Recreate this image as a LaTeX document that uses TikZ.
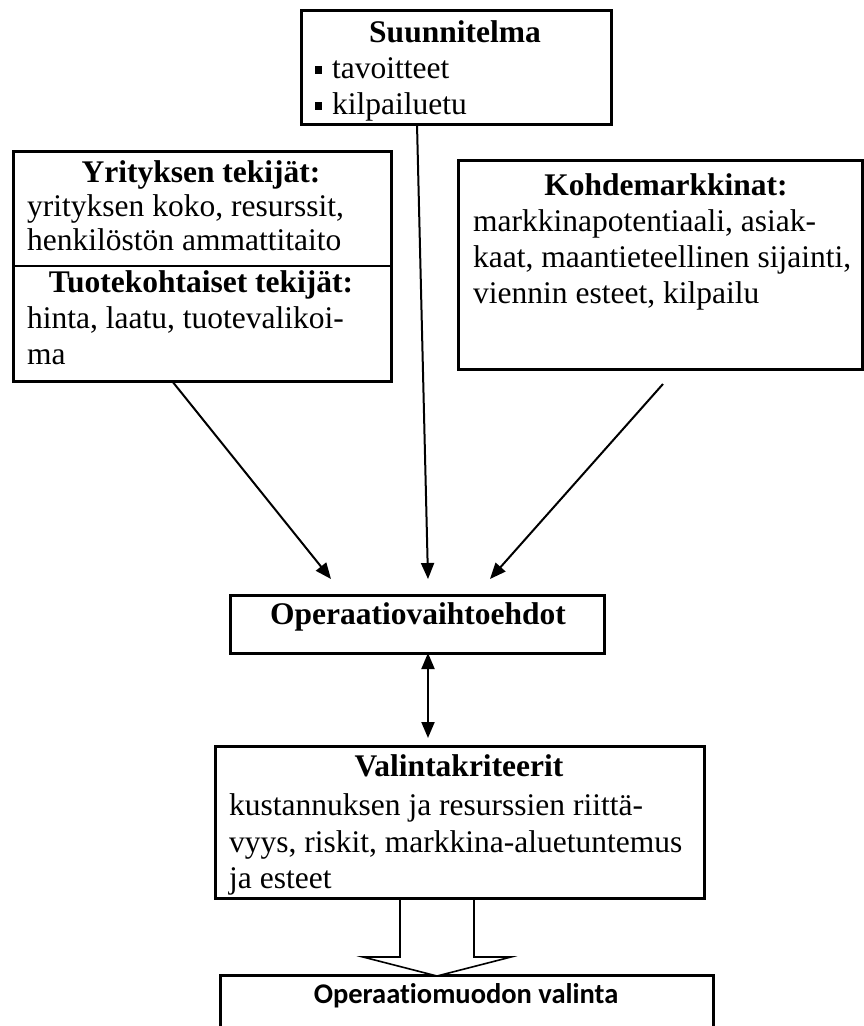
\documentclass[tikz,border=0pt]{standalone}
\usepackage{fontspec}
\setmainfont{Liberation Serif}
\newfontfamily\calib[Ligatures={NoCommon}]{Carlito}
\usetikzlibrary{arrows.meta}
\begin{document}
\begin{tikzpicture}[x=1pt,y=-1pt,
  box/.style={draw,line width=2.5pt,rectangle,inner sep=0pt,anchor=north west},
  txt/.style={inner sep=0pt,anchor=base west,font=\fontsize{31.5}{36}\selectfont},
  ttl/.style={inner sep=0pt,anchor=base,font=\fontsize{31.5}{36}\selectfont\bfseries},
  arr/.style={line width=2pt,-{Triangle[length=16pt,width=13pt]}},
  darr/.style={line width=2pt,{Triangle[length=16pt,width=13pt]}-{Triangle[length=16pt,width=13pt]}}]
\useasboundingbox (0,0) rectangle (864,1026);
\clip (0,0) rectangle (864,1026);
\fill[white] (0,0) rectangle (864,1026);

% Suunnitelma
\node[box,minimum width=310pt,minimum height=114pt] (suun) at (300,9) {};
\node[ttl] (suunT) at (455,42) {Suunnitelma};
\node[txt] (suun1) at (315,78) {\rule[4pt]{7pt}{8pt}\hspace{10pt}tavoitteet};
\node[txt] (suun2) at (315,114) {\rule[4pt]{7pt}{8pt}\hspace{10pt}kilpailuetu};

% Left box
\node[box,minimum width=378pt,minimum height=230pt] (left) at (12,150) {};
\draw[line width=2.5pt] (left.west |- 0,266) coordinate (divL) -- (left.east |- 0,266) coordinate (divR);
\node[ttl] (yrT) at (201,182) {Yrityksen tekijät:};
\node[txt] (yr1) at (27,216) {yrityksen koko, resurssit,};
\node[txt] (yr2) at (27,250) {henkilöstön ammattitaito};
\node[ttl] (tuT) at (201,292) {Tuotekohtaiset tekijät:};
\node[txt] (tu1) at (27,328) {hinta, laatu, tuotevalikoi-};
\node[txt] (tu2) at (27,364) {ma};

% Right box
\node[box,minimum width=404pt,minimum height=209pt] (right) at (457,159) {};
\node[ttl] (koT) at (666,195) {Kohdemarkkinat:};
\node[txt] (ko1) at (473,231) {markkinapotentiaali, asiak-};
\node[txt] (ko2) at (473,267) {kaat, maantieteellinen sijainti,};
\node[txt] (ko3) at (473,303) {viennin esteet, kilpailu};

% Operaatiovaihtoehdot
\node[box,minimum width=374pt,minimum height=58pt] (opv) at (229,594) {};
\node[ttl] (opvT) at (418,624) {Operaatiovaihtoehdot};

% Valintakriteerit
\node[box,minimum width=489pt,minimum height=152pt] (val) at (214,745) {};
\node[ttl] (valT) at (459,776) {Valintakriteerit};
\node[txt] (val1) at (229,815) {kustannuksen ja resurssien riittä-};
\node[txt] (val2) at (229,852) {vyys, riskit, markkina-aluetuntemus};
\node[txt] (val3) at (229,888) {ja esteet};

% Bottom box
\node[box,minimum width=493pt,minimum height=100pt] (bot) at (219,974) {};
\node[inner sep=0pt,anchor=base,font=\calib\fontsize{28.5}{34}\selectfont\bfseries] (botT) at (466,1003) {Operaatiomuodon valinta};

% arrows
\coordinate (a1s) at (172,381);
\coordinate (a1e) at (331,579);
\coordinate (a2s) at (417,124);
\coordinate (a2e) at (428,579);
\coordinate (a3s) at (663,384);
\coordinate (a3e) at (490,579);
\coordinate (dTop) at (428,653);
\coordinate (dBot) at (428,738);
\draw[arr] (a1s) -- (a1e);
\draw[arr] (a2s) -- (a2e);
\draw[arr] (a3s) -- (a3e);
\draw[darr] (dTop) -- (dBot);

% block arrow
\draw[line width=1.6pt,fill=white] (400,899) -- (474,899) -- (474,957) -- (511,957) -- (437,976) -- (363,957) -- (400,957) -- cycle;
\end{tikzpicture}
\end{document}
